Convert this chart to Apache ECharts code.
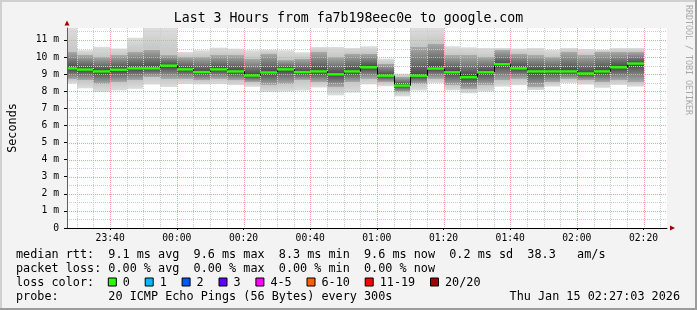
<!DOCTYPE html>
<html>
<head>
<meta charset="utf-8">
<script src="https://cdn.jsdelivr.net/npm/echarts@6.0.0/dist/echarts.min.js"></script>
<style>
html,body{margin:0;padding:0;background:#f3f3f3;overflow:hidden}
#chart{width:697px;height:310px}
</style>
</head>
<body>
<div id="chart"></div>
<script>
// ---------- data ----------
const titleText = "Last 3 Hours from fa7b198eec0e to google.com";
const yAxisTitle = "Seconds";
const sideText = "RRDTOOL / TOBI OETIKER";
const nowTime = "02:27:03";
const spanMinutes = 180;
const stepMinutes = 5;

const barEnds = ["23:30","23:35","23:40","23:45","23:50","23:55","00:00","00:05","00:10","00:15","00:20","00:25","00:30","00:35","00:40","00:45","00:50","00:55","01:00","01:05","01:10","01:15","01:20","01:25","01:30","01:35","01:40","01:45","01:50","01:55","02:00","02:05","02:10","02:15","02:20"];
// ping spread per interval (ms): outer extremes, inner (darker) band edges, median
const pingMax    = [12.0,10.4,10.6,10.5,11.13,12.0,12.0,10.3,10.4,10.55,10.49,10.4,10.43,10.4,10.28,10.59,10.59,10.53,10.63,9.91,9.03,12.0,12.0,10.63,10.57,10.53,10.53,10.5,10.53,10.42,10.53,10.47,10.43,10.53,10.53];
const pingHigh   = [10.3,10.1,10.0,10.1,10.3,10.44,10.1,10.0,10.0,10.1,10.1,9.9,10.2,9.81,9.9,10.3,10.0,10.2,10.2,9.61,8.84,10.59,10.79,10.1,10.1,10.0,10.4,10.2,10.1,10.0,10.3,10.1,10.3,10.3,10.3];
const pingMedian = [9.34,9.27,9.16,9.26,9.34,9.34,9.5,9.28,9.12,9.28,9.16,8.92,9.1,9.28,9.12,9.16,8.99,9.16,9.4,8.91,8.33,8.91,9.33,9.11,8.82,9.11,9.58,9.34,9.16,9.16,9.16,9.04,9.16,9.4,9.62];
const pingLow    = [8.7,8.64,8.44,8.54,8.64,8.84,8.74,8.74,8.64,8.74,8.64,8.54,8.35,8.44,8.64,8.54,8.25,8.54,8.74,8.54,7.96,8.44,8.74,8.35,8.15,8.35,8.64,8.74,8.25,8.54,8.74,8.64,8.54,8.64,8.54];
const pingMin    = [8.45,8.17,7.95,8.05,8.14,8.39,8.25,8.42,8.4,8.42,8.36,8.26,7.95,7.98,8.04,8.22,7.76,7.92,8.4,8.29,7.7,8.05,8.48,8.05,7.88,7.98,8.27,8.35,8.07,8.27,8.48,8.39,8.2,8.37,8.27];

const xTickLabels = ["23:40","00:00","00:20","00:40","01:00","01:20","01:40","02:00","02:20"];
const yTickValues = [0,1,2,3,4,5,6,7,8,9,10,11];
const yMax = 11.7;

const lossLabels = ["0","1","2","3","4-5","6-10","11-19","20/20"];
const lossColors = ["#26ff00","#00b8ff","#0059ff","#5e00ff","#ff00ff","#ff5e00","#ff0000","#a10000"];

const legendRtt   = "median rtt:  9.1 ms avg  9.6 ms max  8.3 ms min  9.6 ms now  0.2 ms sd  38.3   am/s";
const legendLoss  = "packet loss: 0.00 % avg  0.00 % max  0.00 % min  0.00 % now";
const legendColor = "loss color:";
const legendProbe = "probe:       20 ICMP Echo Pings (56 Bytes) every 300s";
const legendDate  = "Thu Jan 15 02:27:03 2026";

// ---------- helpers ----------
function toMin(s) {
  const p = s.split(':').map(Number);
  let m = p[0] * 60 + p[1] + (p[2] || 0) / 60;
  if (p[0] >= 12) m -= 1440;
  return m;
}
function fmtMin(m) {
  let t = Math.round(m);
  t = ((t % 1440) + 1440) % 1440;
  const h = Math.floor(t / 60), mm = t % 60;
  return String(h).padStart(2, '0') + ':' + String(mm).padStart(2, '0');
}
const xMax = toMin(nowTime);
const xMin = xMax - spanMinutes;
const xTickVals = xTickLabels.map(toMin);

const MONO = '"DejaVu Sans Mono", monospace';
const G = { left: 67, top: 28, width: 600, height: 200 };

const smokeData = barEnds.map((t, i) => [toMin(t), pingMax[i], pingHigh[i], pingMedian[i], pingLow[i], pingMin[i]]);
const medianData = barEnds.map((t, i) => [toMin(t), pingMedian[i], i > 0 ? pingMedian[i - 1] : pingMedian[i]]);

// grid-line positions (scale decoration)
const vGrid = [];
for (let m = Math.ceil(xMin / stepMinutes) * stepMinutes; m < xMax; m += stepMinutes) {
  vGrid.push([m, 0, xTickVals.includes(m) ? 1 : 0]);
}
const hGrid = [];
for (let v = 0.5; v < yMax; v += 0.5) {
  hGrid.push([xMin, v, Number.isInteger(v) ? 1 : 0]);
}

function renderSmoke(params, api) {
  const cs = params.coordSys;
  const t1 = api.value(0);
  let xL = Math.round(api.coord([t1 - stepMinutes, 0])[0]);
  const xR = Math.round(api.coord([t1, 0])[0]);
  xL = Math.max(xL, Math.round(cs.x));
  const ys = [1, 2, 3, 4, 5].map(d => api.coord([t1, api.value(d)])[1]);
  const top = Math.max(ys[0], cs.y);
  const bot = Math.min(ys[4], cs.y + cs.height);
  const h = bot - top;
  const off = y => Math.min(1, Math.max(0, (y - top) / h));
  return {
    type: 'rect',
    shape: { x: xL, y: top, width: xR - xL, height: h },
    style: {
      fill: new echarts.graphic.LinearGradient(0, 0, 0, 1, [
        { offset: 0, color: '#dddddd' },
        { offset: off(ys[1]), color: '#c6c6c6' },
        { offset: off(ys[1]), color: '#aaaaaa' },
        { offset: off(ys[2]), color: '#454545' },
        { offset: off(ys[3]), color: '#aaaaaa' },
        { offset: off(ys[3]), color: '#c6c6c6' },
        { offset: 1, color: '#dddddd' }
      ])
    },
    silent: true
  };
}

function renderMedian(params, api) {
  const cs = params.coordSys;
  const t1 = api.value(0);
  let xL = Math.round(api.coord([t1 - stepMinutes, 0])[0]);
  const xR = Math.round(api.coord([t1, 0])[0]);
  xL = Math.max(xL, Math.round(cs.x));
  const y = api.coord([t1, api.value(1)])[1];
  const yp = api.coord([t1, api.value(2)])[1];
  return {
    type: 'group',
    children: [
      { type: 'line', shape: { x1: xL + 0.5, y1: yp, x2: xL + 0.5, y2: y }, style: { stroke: '#000', lineWidth: 1 } },
      { type: 'rect', shape: { x: xL, y: y - 1.2, width: xR - xL, height: 2.4 }, style: { fill: lossColors[0] } }
    ],
    silent: true
  };
}

function renderVGrid(params, api) {
  const cs = params.coordSys;
  const x = Math.round(api.coord([api.value(0), 0])[0]) + 0.5;
  return {
    type: 'line',
    shape: { x1: x, y1: cs.y, x2: x, y2: cs.y + cs.height },
    style: { stroke: api.value(2) ? '#f0a0a0' : '#cccccc', lineWidth: 1, lineDash: [1, 1] },
    silent: true
  };
}
function renderHGrid(params, api) {
  const cs = params.coordSys;
  const y = Math.round(api.coord([xMin, api.value(1)])[1]) + 0.5;
  return {
    type: 'line',
    shape: { x1: cs.x, y1: y, x2: cs.x + cs.width, y2: y },
    style: { stroke: api.value(2) ? '#f0a0a0' : '#cccccc', lineWidth: 1, lineDash: [1, 1] },
    silent: true
  };
}

// ---------- legend graphics ----------
const charW = 7.1;
const legendFont = { fontFamily: MONO, fontSize: 11.8 };
const lineY = [254.5, 268.5, 282.5, 296.5];
const graphics = [
  // frame
  { type: 'rect', shape: { x: 0, y: 0, width: 697, height: 2 }, style: { fill: '#d0d0d0' }, silent: true },
  { type: 'rect', shape: { x: 0, y: 0, width: 2, height: 310 }, style: { fill: '#d0d0d0' }, silent: true },
  { type: 'rect', shape: { x: 0, y: 308, width: 697, height: 2 }, style: { fill: '#9c9c9c' }, silent: true },
  { type: 'rect', shape: { x: 695, y: 0, width: 2, height: 310 }, style: { fill: '#9c9c9c' }, silent: true },
  // axis arrows
  { type: 'polygon', shape: { points: [[G.left - 2.5, G.top - 2.5], [G.left + 2.5, G.top - 2.5], [G.left, G.top - 7.5]] }, style: { fill: '#a00000' }, silent: true, z: 10 },
  { type: 'polygon', shape: { points: [[G.left + G.width + 3, G.top + G.height - 2.5], [G.left + G.width + 3, G.top + G.height + 2.5], [G.left + G.width + 8, G.top + G.height]] }, style: { fill: '#a00000' }, silent: true, z: 10 },
  // side text
  { type: 'text', x: 688, y: 5, rotation: -Math.PI / 2, style: { text: sideText, fontFamily: MONO, fontSize: 8.3, fill: '#a8a8a8', align: 'left', verticalAlign: 'middle' }, silent: true },
  // legend lines
  { type: 'text', x: 16, y: lineY[0], style: Object.assign({ text: legendRtt, fill: '#000', align: 'left', verticalAlign: 'middle' }, legendFont), silent: true },
  { type: 'text', x: 16, y: lineY[1], style: Object.assign({ text: legendLoss, fill: '#000', align: 'left', verticalAlign: 'middle' }, legendFont), silent: true },
  { type: 'text', x: 16, y: lineY[2], style: Object.assign({ text: legendColor, fill: '#000', align: 'left', verticalAlign: 'middle' }, legendFont), silent: true },
  { type: 'text', x: 16, y: lineY[3], style: Object.assign({ text: legendProbe, fill: '#000', align: 'left', verticalAlign: 'middle' }, legendFont), silent: true },
  { type: 'text', x: 680, y: lineY[3], style: Object.assign({ text: legendDate, fill: '#000', align: 'right', verticalAlign: 'middle' }, legendFont), silent: true }
];
let bx = 16 + 13 * charW - 0.5;
lossLabels.forEach((lab, i) => {
  graphics.push({ type: 'rect', shape: { x: bx + 0.5, y: lineY[2] - 4.5, width: 8, height: 8 }, style: { fill: lossColors[i], stroke: '#000', lineWidth: 1 }, silent: true });
  graphics.push({ type: 'text', x: bx + 15, y: lineY[2], style: Object.assign({ text: lab, fill: '#000', align: 'left', verticalAlign: 'middle' }, legendFont), silent: true });
  bx = bx + 15 + lab.length * charW + 14.8;
});

// ---------- chart ----------
const chart = echarts.init(document.getElementById('chart'), null, { renderer: 'canvas' });
chart.setOption({
  animation: false,
  backgroundColor: '#f3f3f3',
  title: {
    text: titleText, left: 'center', top: 12, padding: 0,
    textStyle: { fontFamily: MONO, fontSize: 13.2, fontWeight: 'normal', color: '#000' }
  },
  grid: { left: G.left, top: G.top, width: G.width, height: G.height, show: true, backgroundColor: '#ffffff', borderWidth: 0, containLabel: false, outerBoundsMode: 'none' },
  xAxis: {
    type: 'value', min: xMin, max: xMax, z: 5,
    axisLine: { show: true, onZero: false, lineStyle: { color: '#000', width: 1 } },
    axisTick: { show: true, customValues: xTickVals, length: 2, lineStyle: { color: '#000' } },
    axisLabel: { customValues: xTickVals, formatter: v => fmtMin(v), margin: 5, fontFamily: MONO, fontSize: 9.7, color: '#000' },
    splitLine: { show: false }
  },
  yAxis: {
    type: 'value', min: 0, max: yMax, z: 5,
    name: yAxisTitle, nameLocation: 'middle', nameRotate: 90, nameGap: 48,
    nameTextStyle: { fontFamily: MONO, fontSize: 11.8, color: '#000' },
    axisLine: { show: true, onZero: false, lineStyle: { color: '#606060', width: 1 } },
    axisTick: { show: true, customValues: yTickValues, length: 3, lineStyle: { color: '#000' } },
    axisLabel: { customValues: yTickValues, formatter: v => (v === 0 ? '0' : v + ' m'), margin: 8, fontFamily: MONO, fontSize: 9.7, color: '#000' },
    splitLine: { show: false }
  },
  series: [
    { type: 'custom', name: 'smoke', renderItem: renderSmoke, data: smokeData, encode: { x: 0, y: [1, 5] }, z: 2, silent: true },
    { type: 'custom', name: 'vgrid', renderItem: renderVGrid, data: vGrid, encode: { x: 0, y: 1 }, z: 3, silent: true },
    { type: 'custom', name: 'hgrid', renderItem: renderHGrid, data: hGrid, encode: { x: 0, y: 1 }, z: 3, silent: true },
    { type: 'custom', name: 'median', renderItem: renderMedian, data: medianData, encode: { x: 0, y: 1 }, z: 4, silent: true }
  ],
  graphic: graphics
});
</script>
</body>
</html>
